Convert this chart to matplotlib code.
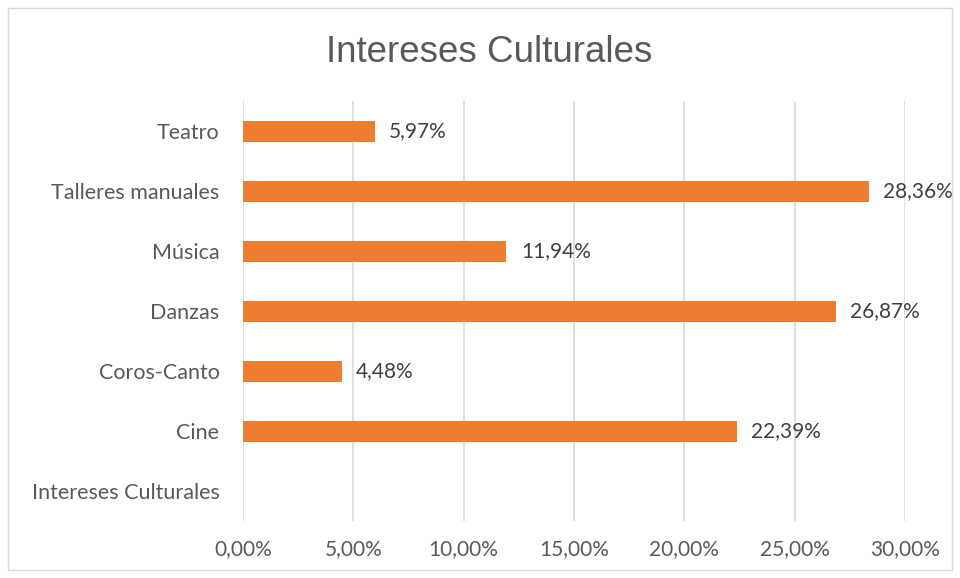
import matplotlib.pyplot as plt
from matplotlib.patches import Rectangle

# Data (bottom to top, as Excel draws it)
categorias = ['Intereses Culturales', 'Cine', 'Coros-Canto', 'Danzas', 'Música',
              'Talleres manuales', 'Teatro']
valores = [None, 22.39, 4.48, 26.87, 11.94, 28.36, 5.97]
xticks = [0, 5, 10, 15, 20, 25, 30]

plt.rcParams['font.family'] = ['Lato', 'DejaVu Sans']

fig = plt.figure(figsize=(9.6, 5.78), dpi=100)
ax = fig.add_axes([243/960, 1-521/578, (905-243)/960, 420/578])

# light border round the chart
fig.patches.append(Rectangle((8/960, 8/578), 944/960, 562/578, transform=fig.transFigure,
                             fill=False, edgecolor='#d9d9d9', lw=1))

ys = list(range(len(categorias)))
for y, v in zip(ys, valores):
    if v is None:
        continue
    ax.barh(y, v, height=0.35, color='#ED7D31', zorder=3)
    ax.text(v + 0.65, y, ('%.2f%%' % v).replace('.', ','), va='center', ha='left',
            fontsize=15, color='#404040')

ax.set_ylim(-0.5, len(categorias) - 0.5)
ax.set_xlim(0, 30)
ax.set_yticks(ys)
ax.set_yticklabels(categorias, fontsize=15.5, color='#595959')
ax.set_xticks(xticks)
ax.set_xticklabels([('%.2f%%' % t).replace('.', ',') for t in xticks], fontsize=15, color='#595959')
ax.tick_params(length=0)
ax.tick_params(axis='y', pad=17)
ax.tick_params(axis='x', pad=13)
ax.grid(axis='x', color='#d9d9d9', lw=1.2, zorder=0)
for s in ax.spines.values():
    s.set_visible(False)

fig.text(489/960, 1 - 52/578, 'Intereses Culturales', ha='center', va='center',
         fontsize=26.5, color='#595959', family=['Liberation Sans', 'DejaVu Sans'])

fig.savefig('out.png', dpi=100)
